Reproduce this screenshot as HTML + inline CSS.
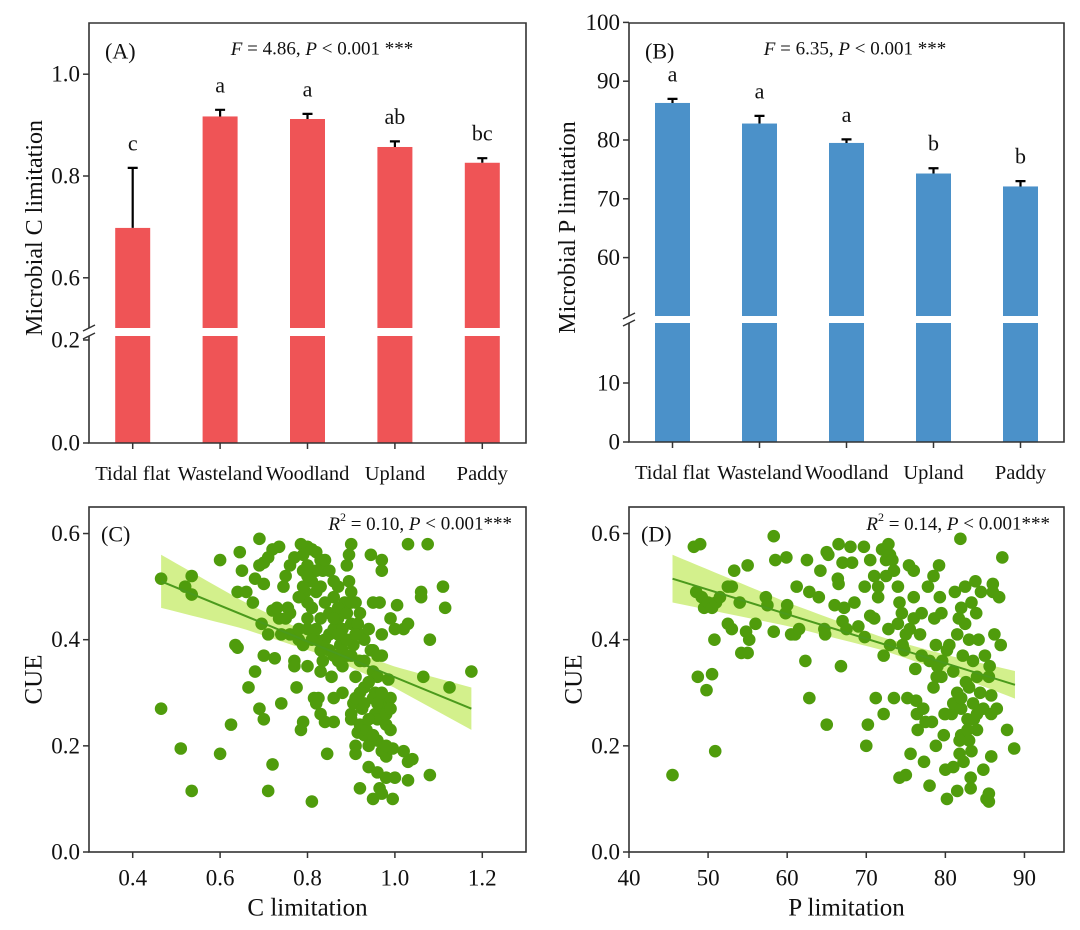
<!DOCTYPE html>
<html><head><meta charset="utf-8">
<style>
html,body{margin:0;padding:0;background:#fff;}
svg{display:block;font-family:"Liberation Serif","Times New Roman",serif;}
</style></head>
<body>
<svg id="fig" width="1080" height="930" viewBox="0 0 1080 930" xmlns="http://www.w3.org/2000/svg"></svg>
<script>
// ---------- Data ----------
const categories = ['Tidal flat','Wasteland','Woodland','Upland','Paddy'];
const cMeans = [0.698,0.917,0.912,0.857,0.826];
const cErrs = [0.118,0.013,0.010,0.011,0.009];
const cLetters = ['c','a','a','ab','bc'];
const pMeans = [86.3,82.8,79.5,74.3,72.1];
const pErrs = [0.7,1.3,0.6,0.9,0.9];
const pLetters = ['a','a','a','b','b'];
const yTicksA = [0.0,0.2,0.6,0.8,1.0];
const yTickLabelsA = ['0.0','0.2','0.6','0.8','1.0'];
const yTicksB = [0,10,60,70,80,90,100];
const yTickLabelsB = ['0','10','60','70','80','90','100'];
const cueTicks = [0,0.2,0.4,0.6];
const cueTickLabels = ['0.0','0.2','0.4','0.6'];
const cxTicks = [0.4,0.6,0.8,1.0,1.2];
const cxTickLabels = ['0.4','0.6','0.8','1.0','1.2'];
const pxTicks = [40,50,60,70,80,90];
const pxTickLabels = ['40','50','60','70','80','90'];
// C limitation vs CUE
const cX = [0.465,0.465,0.52,0.535,0.535,0.51,0.535,0.60,0.60,0.625,0.635,0.64,0.645,0.64,0.65,0.665,0.675,0.66,0.68,0.68,0.69,0.69,0.70,0.70,0.70,0.71,0.72,0.725,0.74,0.69,0.695,0.70,0.71,0.72,0.735,0.72,0.735,0.71,0.745,0.75,0.755,0.76,0.74,0.77,0.77,0.775,0.78,0.78,0.785,0.79,0.79,0.79,0.77,0.785,0.80,0.81,0.82,0.80,0.80,0.81,0.795,0.80,0.80,0.82,0.83,0.835,0.82,0.84,0.81,0.815,0.82,0.825,0.83,0.835,0.83,0.84,0.845,0.85,0.855,0.86,0.86,0.86,0.86,0.87,0.87,0.875,0.88,0.88,0.885,0.89,0.895,0.90,0.895,0.90,0.90,0.905,0.91,0.90,0.90,0.905,0.91,0.915,0.92,0.92,0.91,0.91,0.915,0.92,0.92,0.925,0.93,0.93,0.935,0.94,0.94,0.945,0.95,0.945,0.95,0.955,0.955,0.96,0.96,0.96,0.965,0.95,0.97,0.97,0.97,0.965,0.97,0.97,0.975,0.975,0.98,0.98,0.98,0.985,0.99,0.99,0.99,0.995,0.995,1.0,1.0,1.005,1.02,1.02,1.03,1.03,1.03,1.03,1.06,1.06,1.065,1.075,1.08,1.08,1.11,1.115,1.125,1.175,1.04,0.76,0.78,0.79,0.81,0.83,0.85,0.86,0.87,0.88,0.89,0.90,0.92,0.93,0.94,0.85,0.84,0.83,0.82,0.80,0.79,0.76,0.75,0.73,0.87,0.88,0.89,0.93,0.94,0.95,0.96,0.97,0.98,0.99,0.96,0.97,0.98,0.95,0.94,0.93,0.92,0.91,0.95,0.96,0.86,0.85,0.83,0.84,0.86,0.87,0.89,0.90,0.91,0.82,0.80,0.81];
const cY = [0.515,0.27,0.50,0.52,0.485,0.195,0.115,0.55,0.185,0.24,0.39,0.385,0.565,0.49,0.53,0.31,0.47,0.49,0.34,0.515,0.27,0.59,0.505,0.25,0.37,0.115,0.165,0.365,0.28,0.54,0.43,0.545,0.555,0.57,0.575,0.455,0.44,0.41,0.50,0.52,0.46,0.41,0.41,0.36,0.35,0.31,0.42,0.40,0.23,0.245,0.39,0.53,0.555,0.58,0.575,0.57,0.565,0.35,0.54,0.51,0.49,0.47,0.44,0.42,0.55,0.53,0.49,0.47,0.095,0.29,0.28,0.29,0.26,0.36,0.34,0.245,0.185,0.41,0.33,0.42,0.37,0.29,0.245,0.50,0.44,0.39,0.35,0.30,0.47,0.54,0.56,0.58,0.51,0.49,0.43,0.39,0.33,0.26,0.25,0.28,0.47,0.43,0.41,0.36,0.20,0.185,0.225,0.24,0.12,0.27,0.22,0.31,0.23,0.20,0.16,0.56,0.47,0.38,0.34,0.30,0.26,0.33,0.25,0.15,0.12,0.10,0.11,0.55,0.53,0.47,0.41,0.37,0.29,0.27,0.24,0.18,0.14,0.325,0.23,0.29,0.44,0.10,0.195,0.14,0.42,0.465,0.42,0.19,0.17,0.43,0.135,0.58,0.49,0.48,0.33,0.58,0.40,0.145,0.50,0.46,0.31,0.34,0.175,0.45,0.48,0.50,0.46,0.44,0.45,0.48,0.46,0.42,0.40,0.37,0.45,0.40,0.42,0.38,0.40,0.38,0.53,0.52,0.56,0.54,0.44,0.46,0.36,0.38,0.37,0.36,0.32,0.29,0.28,0.30,0.26,0.27,0.21,0.19,0.20,0.22,0.25,0.28,0.30,0.29,0.38,0.37,0.51,0.53,0.50,0.55,0.44,0.41,0.45,0.47,0.41,0.40,0.42,0.40];
// P limitation vs CUE
const pX = [45.5,48.2,49,48.5,49.2,49.5,50,50.5,51,51.5,48.7,49.8,50.5,50.8,50.9,52.5,53,53.3,52.5,53,54,54.2,55,55,55.2,54.8,56,57.3,57.5,58.3,58.5,58.3,59.8,60,59.9,60.5,61,61.2,61.5,62.3,62.5,62.8,62.8,64,64.2,64.7,64.8,65,65.2,65,66,66.4,66.5,66.5,66.8,67,67,67.2,67.5,68,68.2,68.5,69,69.7,69.8,69.8,70,70.2,70.5,70.5,71,71,71.2,71.5,71.5,72,72.2,72.2,72.5,72.5,72.8,72.8,73,73,73.3,73.5,73.5,74,74,74.2,74.5,74.6,74.8,74.2,75,75,75.2,75.4,75.5,75.6,76,76,76,76.2,76.3,76.4,76.5,76.8,77,77,77.2,77.3,77.5,77.8,78,78,78.3,78.5,78.6,78.8,78.9,78.8,79,79.2,79.3,79.5,79.5,79.6,79.8,79.9,80,80.2,80.5,80.8,81,81,81.2,81.5,81.5,81.5,81.7,81.8,81.9,82,82,82,82.2,82.3,82.5,82.5,82.6,82.8,83,83,83.2,83.2,83.3,83.5,83.5,83.6,83.8,83.9,84,84,84.2,84.4,84.5,84.8,84.8,85,85.2,85.5,85.5,85.5,85.6,85.8,85.8,85.8,86,86.2,86,86.5,86.8,87,87.2,87.8,88.7,80.2,81,82,83,84,80,78.5,82.8,81.8,83.3];
const pY = [0.145,0.575,0.58,0.49,0.48,0.46,0.47,0.46,0.47,0.48,0.33,0.305,0.335,0.40,0.19,0.50,0.50,0.53,0.43,0.42,0.47,0.375,0.375,0.54,0.40,0.415,0.43,0.48,0.465,0.595,0.55,0.415,0.45,0.465,0.555,0.41,0.41,0.50,0.42,0.36,0.55,0.29,0.49,0.48,0.53,0.42,0.41,0.565,0.56,0.24,0.465,0.515,0.505,0.58,0.35,0.545,0.435,0.46,0.42,0.575,0.545,0.47,0.425,0.575,0.50,0.405,0.20,0.24,0.55,0.445,0.52,0.44,0.29,0.50,0.48,0.57,0.26,0.37,0.55,0.52,0.58,0.42,0.56,0.39,0.55,0.53,0.29,0.50,0.43,0.47,0.45,0.39,0.38,0.14,0.145,0.41,0.29,0.54,0.42,0.185,0.53,0.48,0.44,0.345,0.285,0.26,0.23,0.41,0.37,0.45,0.27,0.17,0.245,0.50,0.36,0.125,0.245,0.52,0.44,0.39,0.33,0.20,0.35,0.54,0.48,0.45,0.33,0.36,0.22,0.26,0.155,0.10,0.39,0.26,0.28,0.16,0.49,0.41,0.30,0.115,0.44,0.185,0.59,0.46,0.27,0.22,0.37,0.17,0.50,0.43,0.32,0.25,0.40,0.21,0.12,0.14,0.47,0.36,0.28,0.25,0.51,0.45,0.23,0.33,0.40,0.30,0.49,0.27,0.155,0.37,0.10,0.11,0.095,0.33,0.35,0.26,0.18,0.295,0.505,0.41,0.49,0.27,0.48,0.39,0.555,0.23,0.195,0.38,0.34,0.29,0.31,0.26,0.26,0.31,0.23,0.21,0.19];
// regression fits (endpoints) and CI half-widths at knots
const cFitX = [0.465,1.175];
const cFitY = [0.51,0.27];
const cBandX = [0.465,0.65,0.85,1.0,1.175];
const cBandHW = [0.05,0.026,0.013,0.02,0.04];
const pFitX = [45.5,88.8];
const pFitY = [0.515,0.315];
const pBandX = [45.5,60,72,80,88.8];
const pBandHW = [0.045,0.022,0.012,0.016,0.026];

// ---------- helpers ----------
const NS='http://www.w3.org/2000/svg';
const svg=document.getElementById('fig');
function mk(tag,attrs,parent){const e=document.createElementNS(NS,tag);for(const k in attrs)e.setAttribute(k,attrs[k]);(parent||svg).appendChild(e);return e;}
function txt(s,x,y,size,anchor,parent){const t=mk('text',{x:x,y:y,'font-size':size,'text-anchor':anchor||'middle','dominant-baseline':'central',fill:'#111'},parent);t.textContent=s;return t;}

// ---------- Bar panels ----------
function barPanel(o){
  const g=mk('g',{});
  
  
  const L=o.left,R=o.right,T=o.top,B=o.bottom;
  const bw=(R-L)/categories.length;
  categories.forEach((c,i)=>{
    const cx=L+(i+0.5)*bw;
    const yt=o.y(o.means[i]);
    const r=mk('rect',{x:cx-17.5,y:yt,width:35,height:B-yt,fill:o.color},g);
    
    
    const ye=o.y(o.means[i]+o.errs[i]);
    const el=mk('path',{d:`M${cx},${yt} V${ye} M${cx-5},${ye} H${cx+5}`,stroke:'#000','stroke-width':2.2,fill:'none'},g);
    
    
    const lt=txt(o.letters[i],cx,ye-25,22,'middle',g);
    
    
    const tk=mk('line',{x1:cx,x2:cx,y1:B,y2:B+6,stroke:'#333','stroke-width':1.5},g);
    
    
    const cl=txt(c,cx,B+31,20.5,'middle',g);
    
    
  });
  // break gap
  const gap=mk('rect',{x:L+1,y:o.gapTop,width:R-L-2,height:o.gapBot-o.gapTop,fill:'#fff'},g);
  
  
  const fr=mk('path',{d:`M${L},${T} H${R} V${B} H${L} Z`,fill:'none',stroke:'#333','stroke-width':1.6},g);
  
  
  const bk=mk('rect',{x:L-3,y:o.gapTop,width:6,height:o.gapBot-o.gapTop,fill:'#fff'},g);
  
  
  const bm=mk('path',{d:`M${L-6},${o.gapTop+3} L${L+6},${o.gapTop-3} M${L-6},${o.gapBot+3} L${L+6},${o.gapBot-3}`,stroke:'#333','stroke-width':1.5},g);
  
  
  o.ticks.forEach((v,i)=>{
    const y=o.y(v);
    const t=mk('line',{x1:L-6,x2:L,y1:y,y2:y,stroke:'#333','stroke-width':1.5},g);
    
    
    const tl=txt(o.tickLabels[i],L-9,y,23,'end',g);
    
    
  });
  const yt=txt(o.ytitle,0,0,24,'middle',g);
  yt.setAttribute('transform',`translate(${o.ytx},${(T+B)/2-5}) rotate(-90)`);
  
  
  const pl=txt(o.label,L+16,T+28,22,'start',g);
  
  
  const st=mk('text',{x:o.statX,y:T+26,'font-size':19,'text-anchor':'middle','dominant-baseline':'central',fill:'#111'},g);
  st.innerHTML=`<tspan font-style="italic">F</tspan> = ${o.F}, <tspan font-style="italic">P</tspan> &lt; 0.001 ***`;
  
  
}
function yA(v){return v>=0.4?176-(v-0.8)*509:443-v*515;}
function yB(v){return v>=40?140-(v-80)*5.88:442-v*5.9;}
barPanel({name:'panel-a-c-limitation',left:89,right:526,top:23,bottom:443,y:yA,means:cMeans,errs:cErrs,letters:cLetters,color:'#ef5456',gapTop:328,gapBot:336,ticks:yTicksA,tickLabels:yTickLabelsA,ytitle:'Microbial C limitation',ytx:35,label:'(A)',statX:322,F:'4.86'});
barPanel({name:'panel-b-p-limitation',left:629,right:1064,top:23,bottom:442,y:yB,means:pMeans,errs:pErrs,letters:pLetters,color:'#4b91c9',gapTop:316,gapBot:323,ticks:yTicksB,tickLabels:yTickLabelsB,ytitle:'Microbial P limitation',ytx:568,label:'(B)',statX:855,F:'6.35'});

// ---------- Scatter panels ----------
function interp(xs,ys,x){if(x<=xs[0])return ys[0];for(let i=1;i<xs.length;i++){if(x<=xs[i]){const t=(x-xs[i-1])/(xs[i]-xs[i-1]);return ys[i-1]+t*(ys[i]-ys[i-1]);}}return ys[ys.length-1];}
function scatterPanel(o){
  const g=mk('g',{});
  
  
  const L=o.left,R=o.right,T=507,B=852;
  const sx=v=>L+(v-o.xmin)/(o.xmax-o.xmin)*(R-L);
  const sy=v=>B-v/0.65*(B-T);
  const fy=x=>interp(o.fitX,o.fitY,x);
  // band
  const N=40;let up=[],lo=[];
  for(let k=0;k<=N;k++){const x=o.fitX[0]+(o.fitX[1]-o.fitX[0])*k/N;const hw=interp(o.bandX,o.bandHW,x);up.push(`${sx(x)},${sy(fy(x)+hw)}`);lo.unshift(`${sx(x)},${sy(fy(x)-hw)}`);}
  const band=mk('polygon',{points:up.concat(lo).join(' '),fill:'#d3f08c'},g);
  
  
  const dots=mk('g',{fill:'#4f9c0c'},g);
  
  
  o.xs.forEach((x,i)=>{
    const c=mk('circle',{cx:sx(x),cy:sy(o.ys[i]),r:6.3},dots);
    
    
  });
  const line=mk('line',{x1:sx(o.fitX[0]),y1:sy(o.fitY[0]),x2:sx(o.fitX[1]),y2:sy(o.fitY[1]),stroke:'#4b9a1c','stroke-width':2},g);
  
  
  const fr=mk('rect',{x:L,y:T,width:R-L,height:B-T,fill:'none',stroke:'#333','stroke-width':1.6},g);
  
  
  cueTicks.forEach((v,i)=>{
    const y=sy(v);
    const t=mk('line',{x1:L-6,x2:L,y1:y,y2:y,stroke:'#333','stroke-width':1.5},g);
    
    
    const tl=txt(cueTickLabels[i],L-9,y,23,'end',g);
    
    
  });
  o.xt.forEach((v,i)=>{
    const x=sx(v);
    const t=mk('line',{x1:x,x2:x,y1:B,y2:B+6,stroke:'#333','stroke-width':1.5},g);
    
    
    const tl=txt(o.xtl[i],x,B+26,23,'middle',g);
    
    
  });
  const xt=txt(o.xtitle,(L+R)/2,B+56,25,'middle',g);
  
  
  const yt=txt('CUE',0,0,25,'middle',g);
  yt.setAttribute('transform',`translate(${L-55},${(T+B)/2}) rotate(-90)`);
  
  
  const pl=txt(o.label,L+12,T+27,22,'start',g);
  
  
  const st=mk('text',{x:R-14,y:T+17,'font-size':19,'text-anchor':'end','dominant-baseline':'central',fill:'#111'},g);
  st.innerHTML=`<tspan font-style="italic">R</tspan><tspan font-size="12" dy="-7">2</tspan><tspan dy="7"> = ${o.r2}, </tspan><tspan font-style="italic">P</tspan> &lt; 0.001***`;
  
  
}
scatterPanel({name:'panel-c-cue-vs-c-limitation',left:89,right:526,xmin:0.3,xmax:1.3,xs:cX,ys:cY,fitX:cFitX,fitY:cFitY,bandX:cBandX,bandHW:cBandHW,xt:cxTicks,xtl:cxTickLabels,xtitle:'C limitation',label:'(C)',r2:'0.10'});
scatterPanel({name:'panel-d-cue-vs-p-limitation',left:629,right:1064,xmin:40,xmax:95,xs:pX,ys:pY,fitX:pFitX,fitY:pFitY,bandX:pBandX,bandHW:pBandHW,xt:pxTicks,xtl:pxTickLabels,xtitle:'P limitation',label:'(D)',r2:'0.14'});
</script>
</body></html>
